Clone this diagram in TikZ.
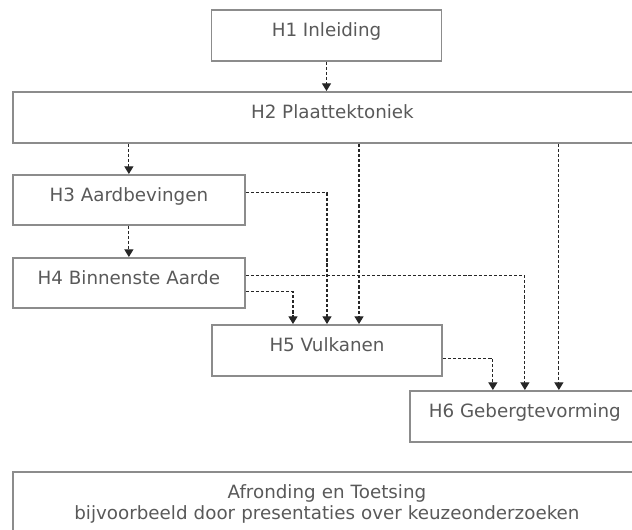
\documentclass[tikz,border=0pt]{standalone}
\usepackage{fontspec}
\setmainfont{DejaVu Sans}
\usetikzlibrary{arrows.meta}
\begin{document}
\begin{tikzpicture}[x=0.025cm,y=-0.025cm,
	hbox/.style={draw=gray!90,line width=1.2pt,text=black!65,inner sep=0pt,font=\fontsize{13pt}{15pt}\selectfont,text height=0.675cm,text depth=0.6cm,minimum width=5.75cm,anchor=north},
	link/.style={draw=black!85,line width=0.8pt,dash pattern=on 2.2pt off 1.4pt,-{Triangle[width=6.5pt,length=5.5pt]}}]
	\clip (0,0) rectangle (632,529);
	\node[hbox] (h1) at (326.5,9) {H1 Inleiding};
	\node[hbox,anchor=north west,minimum width=15.975cm] (h2) at (12,91) {H2 Plaattektoniek};
	\node[hbox,anchor=north west,minimum width=5.8cm,text depth=0.575cm] (h3) at (12,174) {H3 Aardbevingen};
	\node[hbox,anchor=north west,minimum width=5.8cm,text depth=0.575cm] (h4) at (12,257) {H4 Binnenste Aarde};
	\node[hbox] (h5) at (327,324) {H5 Vulkanen};
	\node[hbox,anchor=north west] (h6) at (409,390) {H6 Gebergtevorming};
	\node[hbox,anchor=north west,text width=15.7cm,align=center,text depth=2cm] (afr) at (12,471) {Afronding en Toetsing\\bijvoorbeeld door presentaties over keuzeonderzoeken};
	\coordinate (h5a) at ([xshift=-0.85cm]h5.north);
	\coordinate (h5c) at ([xshift=0.8cm]h5.north);
	\coordinate (h6a) at ([xshift=-0.8cm]h6.north);
	\coordinate (h6c) at ([xshift=0.85cm]h6.north);
	\draw[link] (h1.south) -- (h1.south |- h2.north);
	\draw[link] (h3.north |- h2.south) -- (h3.north);
	\draw[link] (h3) -- (h4);
	\draw[link] ([yshift=0.175cm]h3.east) -| (h5.north);
	\draw[link] (h2.south -| h5c) -- (h5c);
	\draw[link] (h2.south -| h6c) -- (h6c);
	\draw[link] ([yshift=0.175cm]h4.east) -| (h6.north);
	\draw[link] ([yshift=-0.225cm]h4.east) -| (h5a);
	\draw[link] ([yshift=-0.2cm]h5.east) -| (h6a);
\end{tikzpicture}
\end{document}
